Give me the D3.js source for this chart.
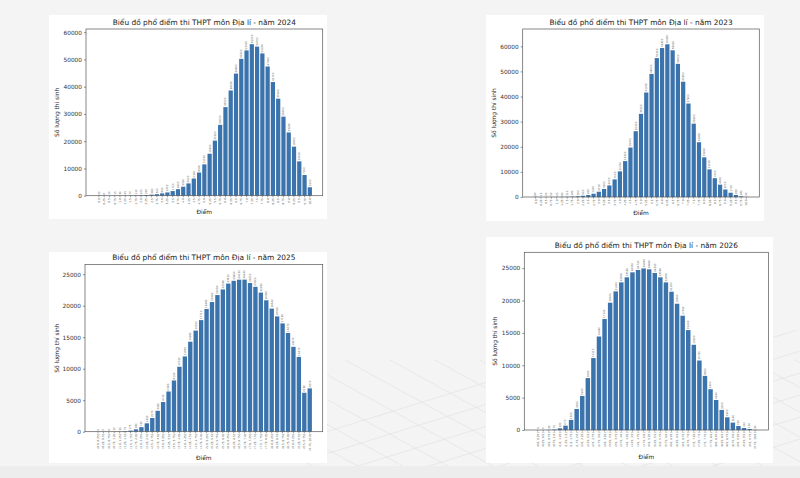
<!DOCTYPE html>
<html><head><meta charset="utf-8">
<script src="https://cdn.jsdelivr.net/npm/d3@7"></script>
<style>html,body{margin:0;padding:0;background:#f4f4f4;}svg{display:block;font-family:"DejaVu Sans",sans-serif;}</style>
</head><body>
<svg id="c" width="800" height="478"></svg>
<script>
// ---- data ----
const scoreLabels = ["0.0","0.25","0.5","0.75","1.0","1.25","1.5","1.75","2.0","2.25","2.5","2.75","3.0","3.25","3.5","3.75","4.0","4.25","4.5","4.75","5.0","5.25","5.5","5.75","6.0","6.25","6.5","6.75","7.0","7.25","7.5","7.75","8.0","8.25","8.5","8.75","9.0","9.25","9.5","9.75","10.0"];
const binLabels = ["(0.0, 0.25]","(0.25, 0.5]","(0.5, 0.75]","(0.75, 1.0]","(1.0, 1.25]","(1.25, 1.5]","(1.5, 1.75]","(1.75, 2.0]","(2.0, 2.25]","(2.25, 2.5]","(2.5, 2.75]","(2.75, 3.0]","(3.0, 3.25]","(3.25, 3.5]","(3.5, 3.75]","(3.75, 4.0]","(4.0, 4.25]","(4.25, 4.5]","(4.5, 4.75]","(4.75, 5.0]","(5.0, 5.25]","(5.25, 5.5]","(5.5, 5.75]","(5.75, 6.0]","(6.0, 6.25]","(6.25, 6.5]","(6.5, 6.75]","(6.75, 7.0]","(7.0, 7.25]","(7.25, 7.5]","(7.5, 7.75]","(7.75, 8.0]","(8.0, 8.25]","(8.25, 8.5]","(8.5, 8.75]","(8.75, 9.0]","(9.0, 9.25]","(9.25, 9.5]","(9.5, 9.75]","(9.75, 10.0]"];
const counts2024 = [20,8,10,15,30,45,70,110,160,260,380,560,850,1200,1700,2400,3300,4500,6300,8500,11500,15400,20200,26000,32500,38600,44800,50200,53300,55600,54700,52200,47400,41700,35600,29000,23200,18000,12600,7600,3100];
const counts2023 = [80,15,20,50,60,80,110,180,300,500,800,1300,2100,3200,4600,7000,10200,14300,19700,26200,33100,41600,49000,55300,59300,60800,58400,53000,45900,37200,29200,21800,15800,11000,7500,4900,3000,1700,800,280,30];
const counts2025 = [5,5,8,10,30,75,175,380,720,1330,2170,3320,4710,6380,8130,10310,11950,14280,16050,17710,19480,20580,21690,22580,23510,23950,24130,24140,23600,23000,22080,20860,19540,18300,17190,15670,13470,11870,6180,6870];
const counts2026 = [3,6,22,75,260,670,1560,3250,5260,8020,11110,14440,17140,19660,21410,22800,23580,24350,24720,24950,24820,24250,23580,22800,21360,19500,17650,15430,13160,10730,8360,6300,4640,3100,1960,1140,620,310,150,30];
const ticksLarge = [0,10000,20000,30000,40000,50000,60000];
const ticksSmall = [0,5000,10000,15000,20000,25000];
const titlePrefix = "Biểu đồ phổ điểm thi THPT môn Địa lí - năm ";
const xTitle = "Điểm";
const yTitle = "Số lượng thí sinh";

const svg = d3.select("#c");
// background
svg.append("rect").attr("width",800).attr("height",478).attr("fill","#f4f4f4");
const defs = svg.append("defs");
defs.append("clipPath").attr("id","floor").append("rect").attr("x",300).attr("y",330).attr("width",500).attr("height",136);
// faint perspective floor grid
const gg = svg.append("g").attr("clip-path","url(#floor)").attr("stroke","#e2e2e2").attr("stroke-width",0.7).attr("fill","none");
for (let k=0;k<8;k++){
  const y0 = 440 + k*22;
  gg.append("line").attr("x1",300).attr("y1",y0).attr("x2",800).attr("y2",y0-0.31*500);
}
for (let k=-8;k<12;k++){
  const x0 = 300 + k*45;
  gg.append("line").attr("x1",x0).attr("y1",360).attr("x2",x0+200).attr("y2",360+0.55*200);
}
svg.append("rect").attr("x",0).attr("y",466).attr("width",800).attr("height",12).attr("fill","#ededed");

function drawChart(cfg){
  const g = svg.append("g");
  g.append("rect").attr("x",cfg.card[0]).attr("y",cfg.card[1]).attr("width",cfg.card[2]-cfg.card[0]).attr("height",cfg.card[3]-cfg.card[1]).attr("fill","#ffffff");
  const [L,T,R,B] = cfg.plot;
  const n = cfg.labels.length;
  const m = 0.05*(n-0.2);
  const x = d3.scaleBand().domain(cfg.labels).range([L,R]).paddingInner(0.2).paddingOuter(m);
  const ymax = d3.max(cfg.values)*1.1;
  const y = d3.scaleLinear().domain([0,ymax]).range([B,T]);
  const data = cfg.labels.map((l,i)=>({l, v:cfg.values[i]}));
  g.selectAll("rect.bar").data(data).join("rect").attr("class","bar")
    .attr("x",d=>x(d.l)).attr("width",x.bandwidth())
    .attr("y",d=>y(d.v)).attr("height",d=>B-y(d.v))
    .attr("fill","#3b73ad");
  // value labels
  g.selectAll("text.val").data(data).join("text").attr("class","val")
    .attr("transform",d=>`translate(${x(d.l)+x.bandwidth()/2+0.9},${y(d.v)-1}) rotate(-90)`)
    .attr("font-size",2.7).attr("fill","#555").attr("text-anchor","start").text(d=>d.v);
  // axes
  const ya = g.append("g").attr("transform",`translate(${L},0)`).call(d3.axisLeft(y).tickValues(cfg.yticks).tickSize(2).tickPadding(2).tickFormat(d3.format("d")));
  ya.select(".domain").remove();
  ya.selectAll("line").attr("stroke","#444").attr("stroke-width",0.6);
  ya.selectAll("text").attr("font-size",5.8).attr("fill","#333").attr("font-family","DejaVu Sans");
  const xa = g.append("g").attr("transform",`translate(0,${B})`).call(d3.axisBottom(x).tickSize(1.6).tickPadding(1));
  xa.select(".domain").remove();
  xa.selectAll("line").attr("stroke","#444").attr("stroke-width",0.5);
  xa.selectAll("text").attr("font-size",2.8).attr("fill","#444").attr("font-family","DejaVu Sans")
    .attr("text-anchor","end").attr("dy","0.35em").attr("transform","translate(0,2.5) rotate(-90)").attr("y",0).attr("x",0);
  // frame
  g.append("rect").attr("x",L).attr("y",T).attr("width",R-L).attr("height",B-T).attr("fill","none").attr("stroke","#555").attr("stroke-width",0.7);
  // titles
  g.append("text").attr("x",(L+R)/2).attr("y",T-4).attr("text-anchor","middle").attr("font-size",7.4).attr("fill","#222").text(titlePrefix+cfg.year);
  g.append("text").attr("x",(L+R)/2).attr("y",cfg.xlabY).attr("text-anchor","middle").attr("font-size",5.9).attr("fill","#222").text(xTitle);
  g.append("text").attr("transform",`translate(${cfg.ylabX},${(T+B)/2}) rotate(-90)`).attr("text-anchor","middle").attr("font-size",5.9).attr("fill","#222").text(yTitle);
}

drawChart({year:2024, labels:scoreLabels, values:counts2024, yticks:ticksLarge,
  card:[49,15,327,219], plot:[86,29,322.7,195.7], xlabY:213.5, ylabX:59});
drawChart({year:2023, labels:scoreLabels, values:counts2023, yticks:ticksLarge,
  card:[486,15,764,221], plot:[522.7,29,759.3,197], xlabY:214.5, ylabX:496});
drawChart({year:2025, labels:binLabels, values:counts2025, yticks:ticksSmall,
  card:[49,252,327,463], plot:[85,264.4,322.7,431.7], xlabY:459.5, ylabX:59});
drawChart({year:2026, labels:binLabels, values:counts2026, yticks:ticksSmall,
  card:[486,237,773,463], plot:[524.3,252.3,768.5,430], xlabY:458.5, ylabX:497});
</script>
</body></html>
